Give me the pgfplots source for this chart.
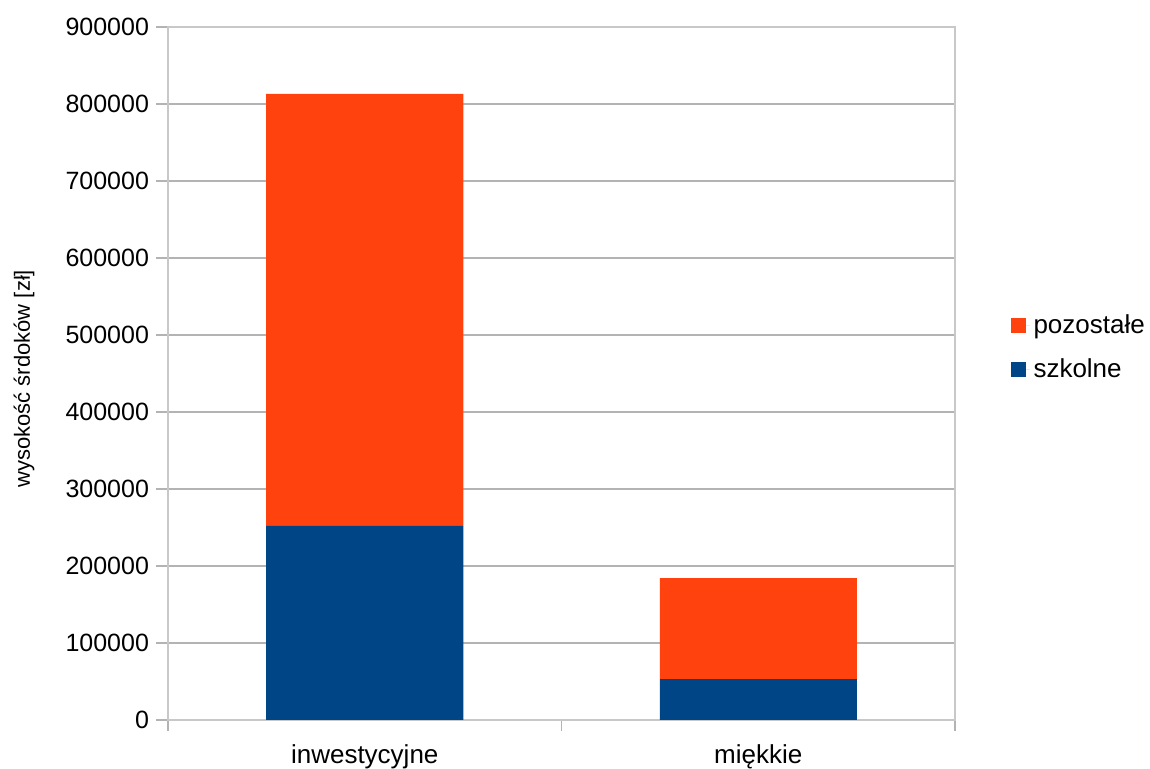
\documentclass[border=0pt]{standalone}
\usepackage{fontspec}
\setmainfont{Liberation Sans}
\usepackage{pgfplots}
\pgfplotsset{compat=1.18}

\definecolor{czerwony}{HTML}{FF420E}
\definecolor{niebieski}{HTML}{004586}
\definecolor{siatka}{HTML}{B3B3B3}
\definecolor{ramka}{HTML}{C8C8C8}

\begin{document}
\begin{tikzpicture}
\begin{axis}[
    scale only axis,
    width=393.5pt, height=346.5pt,
    ybar stacked,
    bar width=98.5pt,
    xmin=-0.5, xmax=1.5,
    ymin=0, ymax=900000,
    xtick={0,1},
    xticklabels={inwestycyjne, miękkie},
    minor xtick={-0.5,0.5,1.5},
    ytick={0,100000,...,900000},
    scaled y ticks=false,
    /pgf/number format/fixed,
    /pgf/number format/1000 sep={},
    /pgf/number format/assume math mode=true,
    ymajorgrids,
    grid style={siatka, line width=0.6pt},
    axis line style={ramka, line width=0.6pt},
    tick align=outside,
    xtick pos=bottom, ytick pos=left,
    major x tick style={draw=none},
    minor x tick style={siatka, line width=0.6pt},
    minor tick length=5.5pt,
    major y tick style={siatka, line width=0.6pt},
    major tick length=6pt,
    yticklabel style={font=\fontsize{12.5}{14}\selectfont, black},
    xticklabel style={font=\fontsize{13}{15}\selectfont, black, yshift=-3pt},
    ylabel={wysokość śrdoków [zł]},
    every axis y label/.style={at={(axis description cs:-0.183,0.4925)}, rotate=90, anchor=center, font=\fontsize{11}{13}\selectfont},
    reverse legend,
    legend style={at={(axis description cs:1.070,0.5375)}, anchor=west, draw=none, fill=none,
        font=\fontsize{13}{15}\selectfont, row sep=7pt, inner xsep=0pt},
    legend cell align=left,
    legend image code/.code={\fill[#1] (0pt,-3.75pt) rectangle (7.5pt,3.75pt);
        \path (0pt,0pt) -- (9.5pt,0pt);},
]
\addplot[fill=niebieski, draw=none] coordinates {(0,252000) (1,53200)};
\addplot[fill=czerwony, draw=none] coordinates {(0,561000) (1,131200)};
\legend{szkolne, pozostałe}
\end{axis}
\pgfresetboundingbox
\path[use as bounding box] ([shift={(-84pt,-24.5pt)}]current axis.south west) rectangle ([shift={(491pt,360pt)}]current axis.south west);
\end{tikzpicture}
\end{document}
